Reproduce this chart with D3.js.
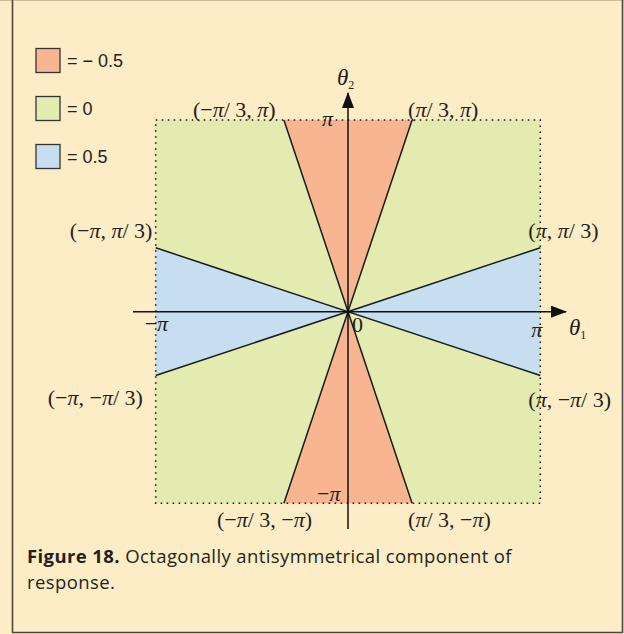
<!DOCTYPE html>
<html>
<head>
<meta charset="utf-8">
<script src="https://cdn.jsdelivr.net/npm/d3@7/dist/d3.min.js"></script>
<style>
  html, body { margin: 0; padding: 0; background: #fdedc6; }
  svg { display: block; }
</style>
</head>
<body>
<script>
const PI = Math.PI;

// Legend entries: value of the antisymmetrical component and its fill
const legendValues = ["= \u2212 0.5", "= 0", "= 0.5"];
const legendColors = ["#f7b592", "#e3ebb0", "#c6def0"];

// Domain of the square plot in radians
const domainMin = -PI, domainMax = PI;

// Wedge regions (vertex lists in (θ1, θ2) radians) and their component value
const wedgeTop    = [[-PI / 3, PI], [PI / 3, PI], [0, 0]];
const wedgeBottom = [[-PI / 3, -PI], [PI / 3, -PI], [0, 0]];
const wedgeRight  = [[PI, PI / 3], [PI, -PI / 3], [0, 0]];
const wedgeLeft   = [[-PI, PI / 3], [-PI, -PI / 3], [0, 0]];
const wedgeValues = [-0.5, -0.5, 0.5, 0.5];

// Corner labels with the vertex they annotate
const cornerPoints = [
  [-PI / 3, PI], [PI / 3, PI], [-PI, PI / 3], [PI, PI / 3],
  [-PI, -PI / 3], [PI, -PI / 3], [-PI / 3, -PI], [PI / 3, -PI]
];
const cornerTexts = [
  ["(", "\u2212", "π", "/ 3, ", "π", ")"],
  ["(", "π", "/ 3, ", "π", ")"],
  ["(", "\u2212", "π", ", ", "π", "/ 3)"],
  ["(", "π", ", ", "π", "/ 3)"],
  ["(", "\u2212", "π", ", ", "\u2212", "π", "/ 3)"],
  ["(", "π", ", ", "\u2212", "π", "/ 3)"],
  ["(", "\u2212", "π", "/ 3, ", "\u2212", "π", ")"],
  ["(", "π", "/ 3, ", "\u2212", "π", ")"]
];

const W = 624, H = 634;
const svg = d3.select("body").append("svg").attr("width", W).attr("height", H);

// Panel frame
svg.append("rect").attr("x", 0).attr("y", 0).attr("width", W).attr("height", H).attr("fill", "#fdedc6");
svg.append("line").attr("x1", 0).attr("x2", W).attr("y1", 0.5).attr("y2", 0.5).attr("stroke", "#cbb99a").attr("stroke-width", 1);
svg.append("path")
  .attr("d", `M12.5,0 V632.5 H622.5 V0`)
  .attr("fill", "none").attr("stroke", "#4a4540").attr("stroke-width", 1.6);

const x = d3.scaleLinear().domain([domainMin, domainMax]).range([155.7, 540.3]);
const y = d3.scaleLinear().domain([domainMin, domainMax]).range([503.3, 120]);

const colorScale = d3.scaleOrdinal().domain([-0.5, 0, 0.5]).range(legendColors);

// Square of value 0
svg.append("rect")
  .attr("x", x(domainMin)).attr("y", y(domainMax))
  .attr("width", x(domainMax) - x(domainMin)).attr("height", y(domainMin) - y(domainMax))
  .attr("fill", colorScale(0));

// Wedges
const wedges = [wedgeTop, wedgeBottom, wedgeRight, wedgeLeft];
const line = d3.line().x(d => x(d[0])).y(d => y(d[1]));
svg.append("g").selectAll("path").data(wedges).join("path")
  .attr("d", d => line(d) + "Z")
  .attr("fill", (d, i) => colorScale(wedgeValues[i]));

// Boundary lines through the origin
const boundaries = [
  [wedgeTop[0], wedgeBottom[1]], [wedgeTop[1], wedgeBottom[0]],
  [wedgeLeft[0], wedgeRight[1]], [wedgeRight[0], wedgeLeft[1]]
];
svg.append("g").selectAll("line").data(boundaries).join("line")
  .attr("x1", d => x(d[0][0])).attr("y1", d => y(d[0][1]))
  .attr("x2", d => x(d[1][0])).attr("y2", d => y(d[1][1]))
  .attr("stroke", "#1a1a1a").attr("stroke-width", 1.5);

// Dotted square border
svg.append("rect")
  .attr("x", x(domainMin)).attr("y", y(domainMax))
  .attr("width", x(domainMax) - x(domainMin)).attr("height", y(domainMin) - y(domainMax))
  .attr("fill", "none").attr("stroke", "#1a1a1a").attr("stroke-width", 1.6)
  .attr("stroke-dasharray", "1.6,4.4");

// Axes with arrows
const defs = svg.append("defs");
defs.append("marker").attr("id", "arrow").attr("viewBox", "0 0 16 12")
  .attr("refX", 15).attr("refY", 6).attr("markerWidth", 16).attr("markerHeight", 12)
  .attr("markerUnits", "userSpaceOnUse").attr("orient", "auto")
  .append("path").attr("d", "M0,0 L16,6 L0,12 Z").attr("fill", "#111");

svg.append("line")
  .attr("x1", 133).attr("y1", y(0)).attr("x2", 566).attr("y2", y(0))
  .attr("stroke", "#111").attr("stroke-width", 1.5).attr("marker-end", "url(#arrow)");
svg.append("line")
  .attr("x1", x(0)).attr("y1", 529).attr("x2", x(0)).attr("y2", 93)
  .attr("stroke", "#111").attr("stroke-width", 1.5).attr("marker-end", "url(#arrow)");

const serif = "'Liberation Serif', 'DejaVu Serif', serif";
const ink = "#231f20";

// Axis titles
function axisTitle(px, py, sub) {
  const t = svg.append("text").attr("x", px).attr("y", py)
    .attr("font-family", serif).attr("font-size", 23).attr("fill", ink);
  t.append("tspan").attr("font-style", "italic").text("θ");
  t.append("tspan").attr("font-size", 12).attr("dy", 4).text(sub);
}
axisTitle(337, 85, "2");
axisTitle(569, 335, "1");

// Tick labels on the axes
const tickLabels = [
  { v: [domainMax, 0], parts: ["π"], dx: -9, dy: 25 },
  { v: [domainMin, 0], parts: ["\u2212", "π"], dx: -11, dy: 19 },
  { v: [0, domainMax], parts: ["π"], dx: -26, dy: 6 },
  { v: [0, domainMin], parts: ["\u2212", "π"], dx: -31, dy: -2 },
  { v: [0, 0], parts: ["0"], dx: 4, dy: 20 }
];
function writeParts(t, parts) {
  parts.forEach(p => {
    t.append("tspan").attr("font-style", p === "π" ? "italic" : "normal").text(p);
  });
}
tickLabels.forEach(d => {
  const t = svg.append("text")
    .attr("x", x(d.v[0]) + d.dx).attr("y", y(d.v[1]) + d.dy)
    .attr("font-family", serif).attr("font-size", 22).attr("fill", ink);
  writeParts(t, d.parts);
});

// Corner labels
const cornerOffsets = [
  [-91, -3], [-4, -3], [-86, -10], [-12, -10],
  [-108, 29], [-12, 31], [-67, 24], [-4, 24]
];
cornerPoints.forEach((p, i) => {
  const t = svg.append("text")
    .attr("x", x(p[0]) + cornerOffsets[i][0]).attr("y", y(p[1]) + cornerOffsets[i][1])
    .attr("font-family", serif).attr("font-size", 22).attr("fill", ink);
  writeParts(t, cornerTexts[i]);
});

// Legend
const legend = svg.append("g").selectAll("g").data(legendValues).join("g")
  .attr("transform", (d, i) => `translate(36,${48.5 + i * 48})`);
legend.append("rect").attr("width", 24).attr("height", 24)
  .attr("fill", (d, i) => legendColors[i]).attr("stroke", "#333").attr("stroke-width", 1.3);
legend.append("text").attr("x", 31).attr("y", 18.5)
  .attr("font-family", "'Liberation Sans', Arial, sans-serif").attr("font-size", 18).attr("fill", ink)
  .text(d => d);

// Caption
const cap = svg.append("g").attr("font-family", "'Open Sans', sans-serif").attr("font-size", 18.5)
  .attr("letter-spacing", 0.4).attr("fill", ink);
const c1 = cap.append("text").attr("x", 27).attr("y", 563);
c1.append("tspan").attr("font-weight", "bold").text("Figure 18.");
c1.append("tspan").text(" Octagonally antisymmetrical component of");
cap.append("text").attr("x", 27).attr("y", 589).text("response.");
</script>
</body>
</html>
